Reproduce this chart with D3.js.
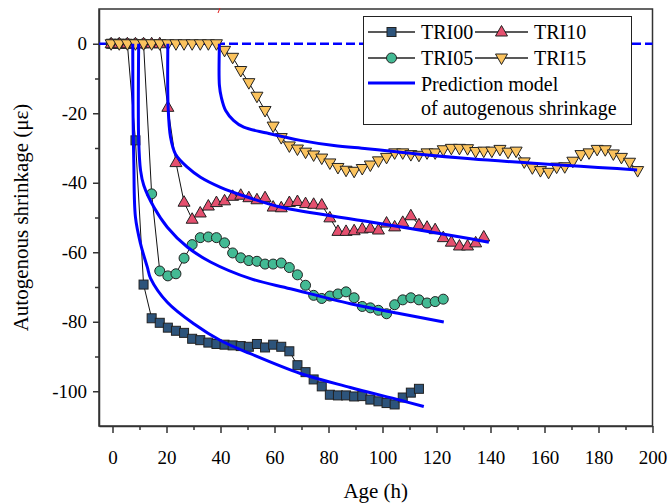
<!DOCTYPE html>
<html>
<head>
  <meta charset="UTF-8">
  <script src="https://d3js.org/d3.v7.min.js"></script>
</head>
<body style="margin:0">
  <svg width="670" height="504"></svg>
  <script>
    // measured series, [age (h), shrinkage (µε)]
    const tri00 = [[-0.5,0],[2.5,0],[5.5,0],[8.5,-27.8],[11.5,-69.3],[14.5,-79.0],[17.5,-80.3],[20.5,-81.7],
      [23.5,-82.6],[26.5,-83.2],[29.5,-84.9],[32.5,-85.3],[35.5,-86.0],[38.5,-86.4],[41.5,-86.6],[44.5,-86.8],
      [47.5,-87.0],[50.5,-87.2],[53.5,-86.4],[56.5,-87.4],[59.5,-86.6],[62.5,-87.2],[65.5,-88.5],[68.5,-92.5],
      [71.5,-94.5],[74.5,-96.6],[77.5,-98.6],[80.5,-101.0],[83.5,-101.2],[86.5,-101.2],[89.5,-101.5],[92.5,-101.4],
      [95.5,-102.4],[98.5,-102.9],[101.5,-103.4],[104.5,-103.8],[107.5,-101.8],[110.5,-100.4],[113.5,-99.3]];

    const tri05 = [[-0.5,0],[2.5,0],[5.5,0],[8.5,0],[11.5,0],[14.5,-43.2],[17.5,-65.4],[20.5,-66.8],[23.5,-66.2],
      [26.5,-61.7],[29.5,-57.8],[32.5,-55.8],[35.5,-55.6],[38.5,-55.8],[41.5,-57.3],[44.5,-60.2],[47.5,-61.6],
      [50.5,-62.4],[53.5,-62.6],[56.5,-63.4],[59.5,-63.4],[62.5,-63.1],[65.5,-64.4],[68.5,-66.5],[71.5,-69.5],
      [74.5,-72.4],[77.5,-73.3],[80.5,-72.6],[83.5,-72.0],[86.5,-71.4],[89.5,-73.1],[92.5,-75.6],[95.5,-76.0],
      [98.5,-76.7],[101.5,-77.7],[104.5,-75.1],[107.5,-73.7],[110.5,-73.1],[113.5,-73.7],[116.5,-74.6],
      [119.5,-74.2],[122.5,-73.5]];

    const tri10 = [[-0.5,0],[2.5,0],[5.5,0],[8.5,0],[11.5,0],[14.5,0],[17.5,0],[20.5,-18.3],[23.5,-34.2],
      [26.5,-45.6],[29.5,-50.5],[32.5,-48.7],[35.5,-46.7],[38.5,-45.7],[41.5,-45.2],[44.5,-43.9],[47.5,-43.6],
      [50.5,-44.3],[53.5,-44.9],[56.5,-44.3],[59.5,-47.0],[62.5,-47.2],[65.5,-45.7],[68.5,-45.4],[71.5,-46.0],
      [74.5,-46.2],[77.5,-46.4],[80.5,-50.1],[83.5,-54.0],[86.5,-54.0],[89.5,-53.8],[92.5,-53.3],[95.5,-53.1],
      [98.5,-53.6],[101.5,-51.6],[104.5,-52.7],[107.5,-51.4],[110.5,-49.5],[113.5,-52.1],[116.5,-52.8],
      [119.5,-53.5],[122.5,-55.8],[125.5,-57.1],[128.5,-58.2],[131.5,-58.2],[134.5,-57.3],[137.5,-55.6]];

    const tri15 = [[-0.5,0],[2.5,0],[5.5,0],[8.5,0],[11.5,0],[14.5,0],[17.5,0],[20.5,0],[23.5,0],[26.5,0],
      [29.5,0],[32.5,0],[35.5,0],[38.5,0],[41.5,-1.9],[44.5,-3.9],[47.5,-7.7],[50.5,-11.2],[53.5,-15.1],
      [56.5,-19.2],[59.5,-23.7],[62.5,-27.0],[65.5,-29.4],[68.5,-30.3],[71.5,-31.2],[74.5,-32.0],[77.5,-32.9],
      [80.5,-34.3],[83.5,-35.6],[86.5,-36.4],[89.5,-36.7],[92.5,-35.9],[95.5,-34.9],[98.5,-33.7],[101.5,-32.7],
      [104.5,-31.4],[107.5,-31.4],[110.5,-31.9],[113.5,-32.1],[116.5,-31.4],[119.5,-31.4],[122.5,-30.5],
      [125.5,-30.1],[128.5,-30.1],[131.5,-30.2],[134.5,-31.0],[137.5,-30.9],[140.5,-30.9],[143.5,-30.4],
      [146.5,-31.2],[149.5,-30.9],[152.5,-34.0],[155.5,-35.7],[158.5,-36.5],[161.5,-37.0],[164.5,-35.5],
      [167.5,-35.4],[170.5,-33.8],[173.5,-31.9],[176.5,-31.4],[179.5,-30.4],[182.5,-30.5],[185.5,-31.7],
      [188.5,-32.7],[191.5,-34.1],[194.5,-36.5]];

    // prediction model curves
    const model00 = [[7.5,0],[7.6,-20],[7.9,-34.5],[8.5,-49.9],[10.4,-57.6],[12.9,-64.3],[14.1,-67.5],
      [20.3,-74.4],[30.1,-80.6],[40,-85.4],[51.1,-89.2],[69.6,-94.9],[88.1,-98.9],[106.7,-102.6],[115.3,-104.4]];
    const model05 = [[9.7,0],[9.7,-27.8],[10.4,-36.5],[11.6,-40.8],[15.3,-47],[20.3,-52.8],[27.7,-58.5],
      [36.3,-62.8],[51.1,-67.6],[65.9,-70.5],[88.1,-74.8],[106.7,-77.7],[122.7,-80.1]];
    const model10 = [[20.5,0],[20.6,-18.2],[21.5,-26.9],[23.3,-31.7],[27.7,-35.5],[32.6,-38.4],[40,-41.3],
      [49.9,-44.1],[62.2,-47],[95.6,-51.3],[132.6,-56.1],[139.4,-57.1]];
    const model15 = [[39.6,0],[39.6,-12],[40.3,-15.4],[41.9,-19.2],[44.9,-22.1],[48.6,-24],[57.3,-25.7],
      [69.6,-27.8],[82,-29.3],[94.3,-30.2],[106.7,-31.2],[132.6,-33.1],[194.3,-36.3]];

    const xMajor = [0, 20, 40, 60, 80, 100, 120, 140, 160, 180, 200];
    const xMinor = [10, 30, 50, 70, 90, 110, 130, 150, 170, 190];
    const yMajor = [0, -20, -40, -60, -80, -100];
    const yMinor = [-10, -30, -50, -70, -90];

    const seriesNames = ["TRI00", "TRI05", "TRI10", "TRI15"];
    const colors = { TRI00: "#2d547b", TRI05: "#43ba94", TRI10: "#e5506f", TRI15: "#fbc35e" };
    const serif = "'Liberation Serif', monospace";

    const svg = d3.select("svg");
    const pLeft = 99, pRight = 652.5, pTop = 9, pBottom = 426;
    const x = d3.scaleLinear().domain([-5, 200]).range([pLeft, pRight]);
    const y = d3.scaleLinear().domain([10, -110]).range([pTop, pBottom]);

    const axisStyle = g => g.call(s => s.selectAll("path, line").attr("stroke", "#333").attr("stroke-width", 1.5))
      .call(s => s.selectAll("text").style("font-family", serif).style("font-size", "19px").attr("fill", "#000"));

    // axes
    svg.append("g").attr("transform", `translate(0,${pBottom})`)
      .call(d3.axisBottom(x).tickValues(xMinor).tickSize(4).tickFormat(""))
      .call(g => g.select(".domain").remove()).call(axisStyle);
    svg.append("g").attr("transform", `translate(0,${pBottom})`)
      .call(d3.axisBottom(x).tickValues(xMajor).tickSize(7).tickSizeOuter(0).tickPadding(18).tickFormat(String))
      .call(axisStyle);
    svg.append("g").attr("transform", `translate(${pLeft},0)`)
      .call(d3.axisLeft(y).tickValues(yMinor).tickSize(4).tickFormat(""))
      .call(g => g.select(".domain").remove()).call(axisStyle);
    svg.append("g").attr("transform", `translate(${pLeft},0)`)
      .call(d3.axisLeft(y).tickValues(yMajor).tickSize(6).tickSizeOuter(0).tickPadding(6).tickFormat(String))
      .call(axisStyle);

    svg.append("rect").attr("fill", "none").attr("stroke", "#333").attr("stroke-width", 1.5)
      .attr("x", pLeft).attr("y", pTop).attr("width", pRight - pLeft).attr("height", pBottom - pTop);

    // stray red mark at the top edge
    svg.append("line").attr("x1", 218).attr("y1", 13).attr("x2", 220).attr("y2", 8)
      .attr("stroke", "#e02020").attr("stroke-width", 1);

    svg.append("text").attr("x", (pLeft + pRight) / 2).attr("y", 498)
      .attr("text-anchor", "middle").style("font-family", serif).style("font-size", "21px").text("Age (h)");
    svg.append("text").attr("transform", `translate(28,${(pTop + pBottom) / 2}) rotate(-90)`)
      .attr("text-anchor", "middle").style("font-family", serif).style("font-size", "21px")
      .text("Autogenous shrinkage (με)");

    // zero baseline
    svg.append("line").attr("x1", x(-5)).attr("x2", x(200)).attr("y1", y(0)).attr("y2", y(0))
      .attr("stroke", "#0000ff").attr("stroke-width", 2.5).attr("stroke-dasharray", "9,4");

    const symbols = {
      TRI00: g => g.append("rect").attr("x", -4.5).attr("y", -4.5).attr("width", 9).attr("height", 9),
      TRI05: g => g.append("circle").attr("r", 5),
      TRI10: g => g.append("path").attr("d", "M0,-6.5L6,4L-6,4Z"),
      TRI15: g => g.append("path").attr("d", "M0,6.5L6,-4L-6,-4Z")
    };

    const line = d3.line().x(d => x(d[0])).y(d => y(d[1]));
    const data = { TRI00: tri00, TRI05: tri05, TRI10: tri10, TRI15: tri15 };

    seriesNames.forEach(name => {
      const g = svg.append("g");
      g.append("path").attr("fill", "none").attr("stroke", "#111").attr("stroke-width", 1)
        .attr("d", line(data[name]));
      g.selectAll("g.pt").data(data[name]).enter().append("g")
        .attr("class", "pt")
        .attr("transform", d => `translate(${x(d[0])},${y(d[1])})`)
        .attr("fill", colors[name]).attr("stroke", "#222").attr("stroke-width", 1)
        .each(function () { symbols[name](d3.select(this)); });
    });

    const modelLine = d3.line().x(d => x(d[0])).y(d => y(d[1])).curve(d3.curveCatmullRom.alpha(0.5));
    [model00, model05, model10, model15].forEach(m => {
      svg.append("path").attr("fill", "none").attr("stroke", "#0000ff").attr("stroke-width", 3)
        .attr("d", modelLine(m));
    });

    // legend
    const lg = svg.append("g");
    lg.append("rect").attr("x", 363.5).attr("y", 16.5).attr("width", 268).attr("height", 108)
      .attr("fill", "#fff").attr("stroke", "#222").attr("stroke-width", 1);
    const legendItems = [
      { name: "TRI00", x0: 368, x1: 415, tx: 421, cy: 32 },
      { name: "TRI10", x0: 475, x1: 528, tx: 534, cy: 32 },
      { name: "TRI05", x0: 368, x1: 415, tx: 421, cy: 58 },
      { name: "TRI15", x0: 475, x1: 528, tx: 534, cy: 58 }
    ];
    const legendText = (tx, ty, label) => lg.append("text").attr("x", tx).attr("y", ty)
      .style("font-family", serif).style("font-size", "20px").attr("fill", "#000").text(label);
    legendItems.forEach(it => {
      lg.append("line").attr("x1", it.x0).attr("x2", it.x1).attr("y1", it.cy).attr("y2", it.cy)
        .attr("stroke", "#222").attr("stroke-width", 1.5);
      const m = lg.append("g").attr("fill", colors[it.name]).attr("stroke", "#222").attr("stroke-width", 1)
        .attr("transform", `translate(${(it.x0 + it.x1) / 2},${it.cy})`);
      symbols[it.name](m);
      legendText(it.tx, it.cy + 7, it.name);
    });
    lg.append("line").attr("x1", 368).attr("x2", 415).attr("y1", 83).attr("y2", 83)
      .attr("stroke", "#0000ff").attr("stroke-width", 3);
    legendText(421, 91, "Prediction model");
    legendText(421, 115, "of autogenous shrinkage");
  </script>
</body>
</html>
